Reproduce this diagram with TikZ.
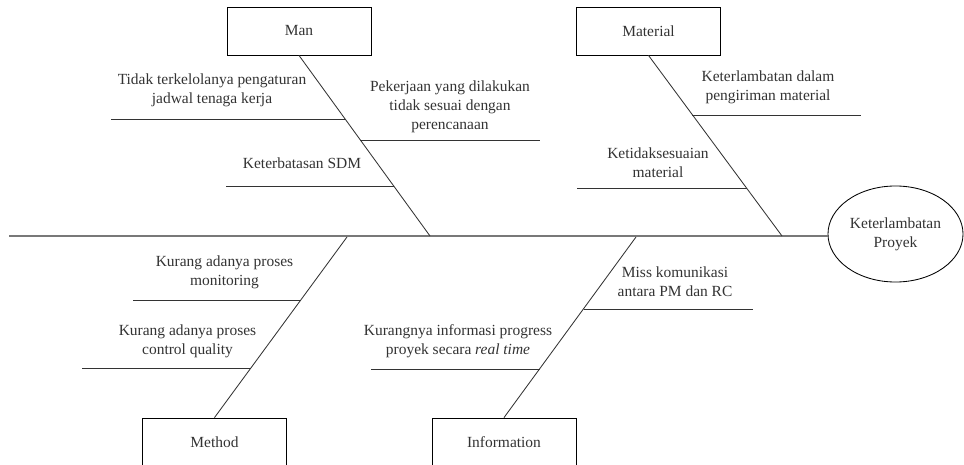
\documentclass[tikz,border=0pt]{standalone}
\usepackage{fontspec}
\setmainfont{Liberation Serif}
\usetikzlibrary{shapes.geometric}
\definecolor{spinegray}{HTML}{787878}
\definecolor{bonegray}{HTML}{333333}
\definecolor{textgray}{HTML}{333333}
\tikzset{
  category/.style={draw, minimum width=3.6cm, minimum height=1.2cm, inner sep=0pt, line width=0.6pt},
  effect/.style={draw, ellipse, minimum width=3.375cm, minimum height=2.4cm, inner sep=0pt, align=center, line width=0.6pt},
  cause/.style={align=center, inner sep=0pt},
  bone/.style={draw=bonegray, line width=0.6pt},
  spine/.style={draw=spinegray, line width=1.4pt}
}

\begin{document}
\begin{tikzpicture}[x=0.025cm,y=-0.025cm,font=\rmfamily\fontsize{11}{13.5}\selectfont,text=textgray]
\useasboundingbox (0,0) rectangle (964,465);
% head and categories
\node[effect] (delay) at (895.5,234) {Keterlambatan\\Proyek};
\node[category] (man) at (299,31) {Man};
\node[category] (material) at (648.5,31) {Material};
\node[category] (method) at (214.5,442) {Method};
\node[category] (information) at (504,442) {Information};
% main spine
\coordinate (tail) at (9,236);
\draw[spine] (tail)--(tail -| delay.west);
% category bones
\coordinate (manhit) at (430,236);
\coordinate (materialhit) at (782,236);
\coordinate (methodhit) at (347,237);
\coordinate (informationhit) at (636,237);
\draw[bone] (man.south)--(manhit);
\draw[bone] (material.south)--(materialhit);
\draw[bone] (methodhit)--(method.north);
\draw[bone] (informationhit)--(information.north);
% man causes
\coordinate (jadwalL) at (111,119);
\coordinate (jadwalR) at (344.7,119);
\coordinate (rencanaL) at (360,140);
\coordinate (rencanaR) at (540,140);
\coordinate (sdmL) at (226,186);
\coordinate (sdmR) at (393.5,186);
\draw[bone] (jadwalL)--(jadwalR);
\draw[bone] (rencanaL)--(rencanaR);
\draw[bone] (sdmL)--(sdmR);
\node[cause] (jadwal) at (212,90) {Tidak terkelolanya pengaturan\\jadwal tenaga kerja};
\node[cause] (rencana) at (450,107) {Pekerjaan yang dilakukan\\tidak sesuai dengan\\perencanaan};
\node[cause] (sdm) at (302,163) {Keterbatasan SDM};
% material causes
\coordinate (kirimL) at (692.4,115);
\coordinate (kirimR) at (861,115);
\coordinate (sesuaiL) at (577,188);
\coordinate (sesuaiR) at (746.5,188);
\draw[bone] (kirimL)--(kirimR);
\draw[bone] (sesuaiL)--(sesuaiR);
\node[cause] (kirim) at (768,87.5) {Keterlambatan dalam\\pengiriman material};
\node[cause] (sesuai) at (658,162.5) {Ketidaksesuaian\\material};
% method causes
\coordinate (monitorL) at (133,300);
\coordinate (monitorR) at (300.9,300);
\coordinate (qualityL) at (82,368);
\coordinate (qualityR) at (251.1,368);
\draw[bone] (monitorL)--(monitorR);
\draw[bone] (qualityL)--(qualityR);
\node[cause] (monitor) at (224.5,272.5) {Kurang adanya proses\\monitoring};
\node[cause] (quality) at (187.5,341.5) {Kurang adanya proses\\control quality};
% information causes
\coordinate (komunikasiL) at (583.5,309);
\coordinate (komunikasiR) at (753,309);
\coordinate (progressL) at (371,369);
\coordinate (progressR) at (539.7,369);
\draw[bone] (komunikasiL)--(komunikasiR);
\draw[bone] (progressL)--(progressR);
\node[cause] (komunikasi) at (675,281.5) {Miss komunikasi\\antara PM dan RC};
\node[cause] (progress) at (458,341.5) {Kurangnya informasi progress\\proyek secara \textit{real time}};
\end{tikzpicture}
\end{document}
